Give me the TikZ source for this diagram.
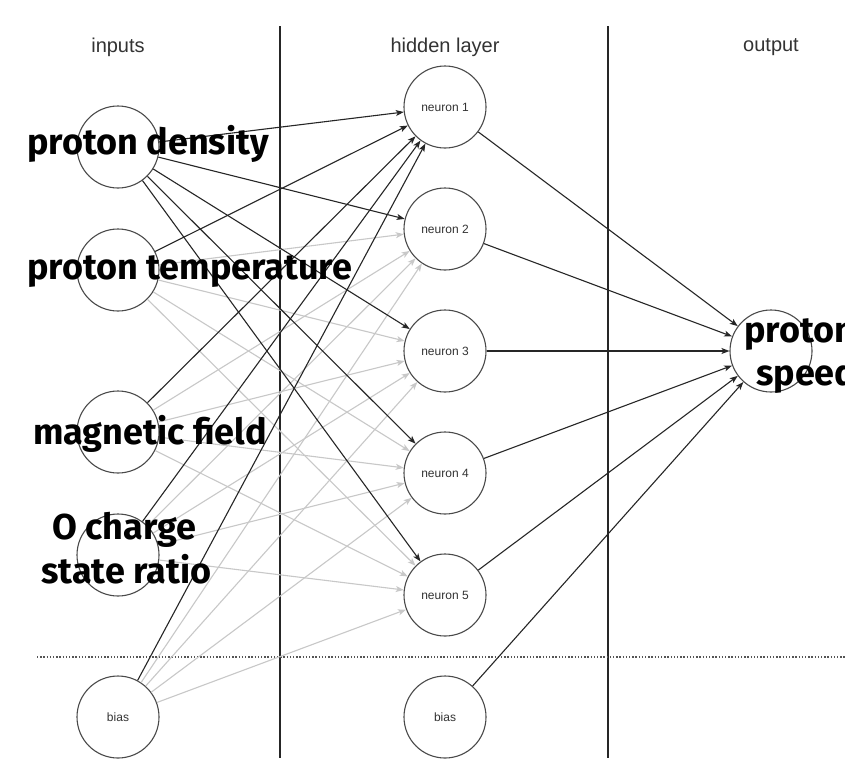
\documentclass[tikz,border=0pt]{standalone}
\usepackage{fontspec}
\setmainfont{Liberation Sans}
\newfontfamily\labfont{Fira Sans}
\usetikzlibrary{arrows.meta}
\definecolor{darkedge}{HTML}{262626}
\definecolor{lightedge}{HTML}{C8C8C8}
\definecolor{circlecol}{HTML}{4A4A4A}
\definecolor{textcol}{HTML}{333333}
\definecolor{dotcol}{HTML}{555555}
\begin{document}
\begin{tikzpicture}[x=1pt,y=-1pt,
  neuron/.style={circle,draw=circlecol,line width=1.1pt,minimum size=82pt,inner sep=0pt,
    font=\fontsize{12}{14}\selectfont,text=textcol},
  dark/.style={draw=darkedge,line width=1.1pt,-{Stealth[length=8pt,width=6pt,inset=2pt]}},
  light/.style={draw=lightedge,line width=1.1pt,-{Stealth[length=8pt,width=6pt,inset=2pt]}},
  bigl/.style={font=\labfont\bfseries\fontsize{36}{40}\selectfont,inner sep=0pt,anchor=base west,text=black},
  titlel/.style={font=\fontsize{20}{24}\selectfont,text=textcol,inner sep=0pt},
  sepline/.style={draw=darkedge,line width=1.1pt}
]
\useasboundingbox (0,0) rectangle (845,758);
\clip (0,0) rectangle (845,758);
\fill[white] (0,0) rectangle (845,758);

% titles
\node[titlel] (tin) at (118,47) {inputs};
\node[titlel] (thid) at (445,47) {hidden layer};
\node[titlel] (tout) at (771,47) {output};

% separators
\coordinate (s1t) at (280,26); \coordinate (s1b) at (280,758);
\coordinate (s2t) at (608,26); \coordinate (s2b) at (608,758);
\draw[sepline] (s1t) -- (s1b);
\draw[sepline] (s2t) -- (s2b);
\coordinate (dl) at (37,657); \coordinate (dr) at (845,657);
\draw[draw=dotcol,line width=1.4pt,dash pattern=on 1.4pt off 1.8pt] (dl) -- (dr);

% nodes
\node[neuron] (in1) at (118,147) {};
\node[neuron] (in2) at (118,270) {};
\node[neuron] (in3) at (118,432) {};
\node[neuron] (in4) at (118,555) {};
\node[neuron] (in5) at (118,717) {bias};
\node[neuron] (h1) at (445,107) {neuron 1};
\node[neuron] (h2) at (445,229) {neuron 2};
\node[neuron] (h3) at (445,351) {neuron 3};
\node[neuron] (h4) at (445,473) {neuron 4};
\node[neuron] (h5) at (445,595) {neuron 5};
\node[neuron] (hb) at (445,717) {bias};
\node[neuron] (out) at (771,351) {};

% edges
\foreach \i in {2,...,5} \foreach \j in {2,...,5} \draw[light] (in\i) -- (h\j);
\foreach \j in {1,...,5} \draw[dark] (in1) -- (h\j);
\foreach \i in {2,...,5} \draw[dark] (in\i) -- (h1);
\foreach \j in {1,...,5,b} \draw[dark] (h\j) -- (out);

% big labels
\node[bigl] (l1) at (27,154) {proton density};
\node[bigl] (l2) at (27,279) {proton temperature};
\node[bigl] (l3) at (33,444) {magnetic field};
\node[bigl] (l4a) at (52,539) {O charge};
\node[bigl] (l4b) at (41,583) {state ratio};
\node[bigl] (l5a) at (744,342) {proton};
\node[bigl] (l5b) at (756,385) {speed};
\end{tikzpicture}
\end{document}
